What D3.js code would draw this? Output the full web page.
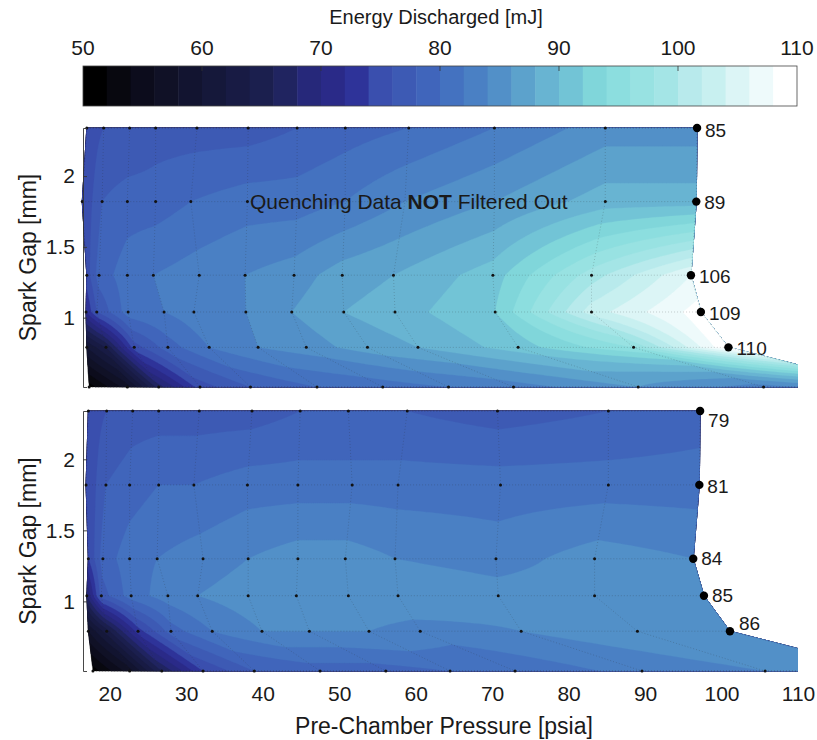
<!DOCTYPE html>
<html>
<head>
<meta charset="utf-8">
<script src="https://cdn.jsdelivr.net/npm/d3@7"></script>
<style>
  body { margin: 0; background: #fff; }
  svg { display: block; }
  text { font-family: "Liberation Sans", Arial, Helvetica, sans-serif; fill: #1a1a1a; }
</style>
</head>
<body>
<svg id="chart" width="817" height="740"></svg>
<script>
// Spark gap rows (mm) shared by both maps
const sparkGaps = [2.34, 1.82, 1.30, 1.04, 0.79, 0.51];

// Measured pre-chamber pressure (psia) for each node, row by row
const pressureTop = [
  [17.0, 19.2, 22.6, 26.0, 31.4, 38.1, 44.5, 50.8, 59.1, 70.3, 84.8, 96.8],
  [16.4, 19.0, 22.3, 26.0, 30.6, 38.0, 44.5, 50.8, 58.6, 70.3, 84.8, 96.7],
  [17.0, 18.6, 22.3, 25.7, 31.7, 37.7, 44.1, 50.4, 57.1, 70.1, 83.0, 96.0],
  [16.9, 18.3, 22.4, 27.1, 31.0, 37.8, 43.8, 50.6, 57.3, 70.4, 83.0, 97.3],
  [17.0, 19.5, 23.2, 27.6, 33.0, 39.4, 45.7, 53.7, 60.3, 73.4, 88.5, 100.9],
  [17.3, 22.3, 26.4, 31.8, 38.4, 47.1, 55.7, 64.3, 72.8, 89.1, 105.5, 121.5]
];
const pressureBottom = [
  [17.2, 19.6, 23.0, 26.4, 31.7, 38.6, 44.9, 51.2, 58.9, 70.7, 85.2, 97.2],
  [16.9, 19.5, 22.6, 26.4, 31.0, 38.0, 44.6, 51.7, 57.7, 71.1, 85.2, 97.1],
  [17.2, 19.1, 22.6, 26.2, 32.2, 38.1, 44.6, 50.8, 57.3, 70.5, 83.4, 96.3],
  [17.0, 18.9, 22.8, 27.6, 31.5, 38.1, 44.4, 51.2, 57.7, 70.8, 83.4, 97.7],
  [17.2, 19.6, 23.7, 28.0, 33.4, 39.9, 46.1, 53.9, 60.6, 73.8, 89.0, 101.1],
  [17.8, 22.6, 26.8, 32.2, 38.9, 47.5, 56.1, 64.5, 73.0, 89.6, 105.7, 121.5]
];

// Energy discharged (mJ) at each node
const energyTop = [
  [75, 76, 76, 77, 77, 77, 78, 79, 80, 82, 85, 85],
  [74, 78, 79, 79, 80, 81, 81, 82, 84, 86, 89, 89],
  [75, 79, 81, 82, 83, 84, 85, 87, 88, 91, 99, 106],
  [72, 76, 81, 82, 83, 84, 86, 88, 89, 92, 103, 109],
  [60, 64, 75, 79, 82, 84, 85, 87, 88, 91, 96, 110],
  [51, 57, 67, 75, 78, 80, 81, 82, 83, 86, 83, 86]
];
const energyBottom = [
  [75, 76, 77, 77, 77, 77, 78, 78, 78, 77, 78, 79],
  [74, 78, 79, 80, 80, 81, 81, 81, 81, 81, 81, 81],
  [74, 79, 81, 82, 83, 84, 85, 85, 84, 83, 85, 84],
  [68, 77, 81, 83, 84, 85, 86, 86, 86, 85, 85, 85],
  [58, 63, 73, 79, 82, 84, 84, 84, 83, 84, 85, 86],
  [51, 57, 66, 74, 78, 79, 79, 80, 80, 83, 84, 85]
];

const xTicks = [20, 30, 40, 50, 60, 70, 80, 90, 100, 110];
const yTicks = [1, 1.5, 2];
const colorTicks = [50, 60, 70, 80, 90, 100, 110];
const levels = d3.range(50, 110, 2);

// Colormap stops at band centres: black through navy and blue to cyan and white
const cmapValues = [51, 53, 55, 57, 59, 61, 63, 65, 67, 69, 71, 73, 75, 77, 79,
                    81, 83, 85, 87, 89, 91, 93, 95, 97, 99, 101, 103, 105, 107, 109];
const cmapColors = ["#000000", "#08080f", "#0c0c1c", "#101126", "#121430", "#15183a", "#181b44",
  "#1b1f4e", "#202460", "#26287a", "#2a2a88", "#2e3399", "#3a4fae", "#3d5ab4", "#4065bb",
  "#4472c0", "#4a80c4", "#5290c8", "#5ca2cc", "#68b4d2", "#72c4d6", "#80d6da", "#8cdedf",
  "#98e2e2", "#a4e5e6", "#b8eaec", "#c8f0f0", "#dcf5f6", "#eefafb", "#ffffff"];

const svg = d3.select("#chart");
const color = d3.scaleLinear().domain(cmapValues).range(cmapColors).interpolate(d3.interpolateRgb).clamp(true);
const bandColor = v => color(v + 1);

const x = d3.scaleLinear().domain([16.5, 110]).range([83, 798]);
const panels = [
  { pressure: pressureTop, energy: energyTop, y: d3.scaleLinear().domain([0.51, 2.34]).range([387, 128]),
    nudge: [[8, 2], [8, 1], [8, 1], [8, 1], [8, 1]], note: true },
  { pressure: pressureBottom, energy: energyBottom, y: d3.scaleLinear().domain([0.51, 2.34]).range([671, 411]),
    nudge: [[8, 9], [8, 1], [8, 0], [8, 0], [9, -8]], note: false }
];

// ---- colorbar ----
const cbx = d3.scaleLinear().domain([50, 110]).range([83, 797]);
const cbar = svg.append("g");
cbar.selectAll("rect.band").data(levels).join("rect")
  .attr("x", d => cbx(d)).attr("y", 66)
  .attr("width", d => cbx(d + 2) - cbx(d) + 0.5).attr("height", 40)
  .attr("fill", d => bandColor(d));
cbar.append("rect").attr("x", 83).attr("y", 66).attr("width", 714).attr("height", 40)
  .attr("fill", "none").attr("stroke", "#444").attr("stroke-width", 0.8);
cbar.selectAll("line.tk").data(colorTicks.slice(1, -1)).join("line")
  .attr("x1", d => cbx(d)).attr("x2", d => cbx(d)).attr("y1", 66).attr("y2", 71)
  .attr("stroke", "#333").attr("stroke-width", 0.8);
cbar.selectAll("text.tl").data(colorTicks).join("text")
  .attr("x", d => cbx(d)).attr("y", 48).attr("dy", "0.35em")
  .attr("text-anchor", "middle").attr("font-size", 21).text(d => d);
cbar.append("text").attr("x", 436).attr("y", 17).attr("dy", "0.35em")
  .attr("text-anchor", "middle").attr("font-size", 20).text("Energy Discharged [mJ]");

// ---- contour panels ----
const K = 24;
panels.forEach((p, pi) => {
  const nr = sparkGaps.length, nc = p.pressure[0].length;
  const node = p.pressure.map((row, r) => row.map(v => [x(v), p.y(sparkGaps[r])]));

  // fine grid of values, bilinear within each mesh cell (index space)
  const W = (nc - 1) * K + 1, H = (nr - 1) * K + 1;
  const values = new Float64Array(W * H);
  for (let j = 0; j < H; j++) {
    const v = j / K, r0 = Math.min(Math.floor(v), nr - 2), fv = v - r0;
    for (let i = 0; i < W; i++) {
      const u = i / K, c0 = Math.min(Math.floor(u), nc - 2), fu = u - c0;
      const e = p.energy;
      values[j * W + i] = (1 - fv) * ((1 - fu) * e[r0][c0] + fu * e[r0][c0 + 1]) +
                          fv * ((1 - fu) * e[r0 + 1][c0] + fu * e[r0 + 1][c0 + 1]);
    }
  }

  // map grid coordinates onto the curvilinear pressure / gap mesh
  function toScreen(gx, gy) {
    const u = Math.max(0, Math.min(nc - 1, (gx - 0.5) / K));
    const v = Math.max(0, Math.min(nr - 1, (gy - 0.5) / K));
    const c0 = Math.min(Math.floor(u), nc - 2), r0 = Math.min(Math.floor(v), nr - 2);
    const fu = u - c0, fv = v - r0;
    const a = node[r0][c0], b = node[r0][c0 + 1], c = node[r0 + 1][c0], d = node[r0 + 1][c0 + 1];
    return [
      (1 - fv) * ((1 - fu) * a[0] + fu * b[0]) + fv * ((1 - fu) * c[0] + fu * d[0]),
      (1 - fv) * ((1 - fu) * a[1] + fu * b[1]) + fv * ((1 - fu) * c[1] + fu * d[1])
    ];
  }
  const path = d3.geoPath(d3.geoTransform({
    point(px, py) { const s = toScreen(px, py); this.stream.point(s[0], s[1]); }
  }));

  const contours = d3.contours().size([W, H]).thresholds(levels)(values);

  const top = p.y.range()[1], bottom = p.y.range()[0];
  const clipId = "clip" + pi;
  svg.append("clipPath").attr("id", clipId).append("rect")
    .attr("x", x(16.5) - 10).attr("y", top - 10).attr("width", x(110) - x(16.5) + 10).attr("height", bottom - top + 20);

  const g = svg.append("g").attr("clip-path", `url(#${clipId})`);
  g.selectAll("path.band").data(contours).join("path")
    .attr("d", path).attr("fill", d => bandColor(d.value))
    .attr("stroke", d => bandColor(d.value)).attr("stroke-width", 0.3);

  // dotted mesh lines
  const line = d3.line();
  const meshLines = [...node, ...d3.range(nc).map(c => node.map(row => row[c]))];
  g.selectAll("path.mesh").data(meshLines).join("path")
    .attr("d", line).attr("fill", "none").attr("stroke", "#2a2a2a")
    .attr("stroke-opacity", (d, i) => (i === 0 || i === nr - 1) ? 0.55 : 0.28)
    .attr("stroke-width", 0.8).attr("stroke-dasharray", "1,2");

  // annotation (top map only); its extent is used to keep points from crowding the note
  let noteBox = null;
  if (p.note) {
    const t = svg.append("text").attr("x", 250).attr("y", p.y(1.82)).attr("dy", "0.35em").attr("font-size", 21);
    t.append("tspan").text("Quenching Data ");
    t.append("tspan").attr("font-weight", "bold").text("NOT");
    t.append("tspan").text(" Filtered Out");
    noteBox = t.node().getBBox();
  }
  const underNote = s => noteBox && s[0] > noteBox.x && s[0] < noteBox.x + noteBox.width &&
    s[1] > noteBox.y && s[1] < noteBox.y + noteBox.height;

  // measurement points
  const pts = node.flatMap((row, r) => row.map((s, c) => ({ s, r, c })))
    .filter(d => (d.c < nc - 1 || d.r === nr - 1) && !underNote(d.s));
  g.selectAll("circle.pt").data(pts).join("circle")
    .attr("cx", d => d.s[0]).attr("cy", d => d.s[1]).attr("r", 1.5).attr("fill", "#111");

  const last = node.slice(0, nr - 1).map((row, r) => ({ s: row[nc - 1], v: p.energy[r][nc - 1], r }));
  svg.selectAll(null).data(last).join("circle")
    .attr("cx", d => d.s[0]).attr("cy", d => d.s[1]).attr("r", 4.2).attr("fill", "#000");
  svg.selectAll(null).data(last).join("text")
    .attr("x", d => d.s[0] + p.nudge[d.r][0]).attr("y", d => d.s[1] + p.nudge[d.r][1])
    .attr("dy", "0.35em").attr("font-size", 19).text(d => d.v);

  // y axis with inward ticks
  const yAxis = d3.axisLeft(p.y).tickValues(yTicks).tickSizeInner(-4).tickSizeOuter(-4)
    .tickPadding(8).tickFormat(d3.format("~g"));
  const ya = svg.append("g").attr("transform", `translate(${x(16.5)},0)`).call(yAxis);
  ya.selectAll("text").attr("font-size", 21).attr("fill", "#1a1a1a")
    .style("font-family", '"Liberation Sans", Arial, sans-serif');
  ya.selectAll("path, line").attr("stroke", "#333").attr("stroke-width", 0.9);

  svg.append("text")
    .attr("transform", `translate(28,${(top + bottom) / 2}) rotate(-90)`)
    .attr("dy", "0.35em").attr("text-anchor", "middle").attr("font-size", 23).text("Spark Gap [mm]");
});

// ---- x axis (labels only) ----
const xAxis = d3.axisBottom(x).tickValues(xTicks).tickSize(0).tickPadding(15);
const xa = svg.append("g").attr("transform", "translate(0,671)").call(xAxis);
xa.select(".domain").remove();
xa.selectAll("text").attr("font-size", 21).attr("fill", "#1a1a1a")
  .style("font-family", '"Liberation Sans", Arial, sans-serif');
svg.append("text").attr("x", 444).attr("y", 726).attr("dy", "0.35em")
  .attr("text-anchor", "middle").attr("font-size", 23).text("Pre-Chamber Pressure [psia]");
</script>
</body>
</html>
